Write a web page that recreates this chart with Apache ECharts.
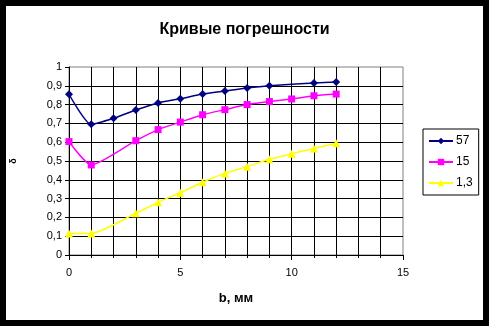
<!DOCTYPE html>
<html>
<head>
<meta charset="utf-8">
<script src="https://cdn.jsdelivr.net/npm/echarts@6/dist/echarts.min.js"></script>
<style>
  html, body { margin: 0; padding: 0; background: #000; }
  #chart { position: absolute; left: 6px; top: 6px; width: 477px; height: 314px; background: #fff; }
</style>
</head>
<body>
<div id="chart"></div>
<script>
// Error curves: b (mm) against relative value, one series per parameter
const seriesNames = ['57', '15', '1,3'];

const x57 = [0, 1, 2, 3, 4, 5, 6, 7, 8, 9, 11, 12];
const y57 = [0.855, 0.695, 0.727, 0.771, 0.809, 0.831, 0.856, 0.872, 0.888, 0.900, 0.915, 0.920];

const x15 = [0, 1, 3, 4, 5, 6, 7, 8, 9, 10, 11, 12];
const y15 = [0.603, 0.479, 0.608, 0.667, 0.707, 0.746, 0.773, 0.800, 0.816, 0.830, 0.847, 0.856];

const x13 = [0, 1, 3, 4, 5, 6, 7, 8, 9, 10, 11, 12];
const y13 = [0.115, 0.115, 0.222, 0.280, 0.331, 0.387, 0.434, 0.470, 0.509, 0.539, 0.567, 0.594];

const xTicks = [0, 5, 10, 15];
const yTicks = [0, 0.1, 0.2, 0.3, 0.4, 0.5, 0.6, 0.7, 0.8, 0.9, 1];

const pairs = (xs, ys) => xs.map((x, i) => [x, ys[i]]);
const comma = v => String(Math.round(v * 10) / 10).replace('.', ',');

const font = '"Liberation Sans", Arial, sans-serif';
const colors = ['#000080', '#FF00FF', '#FFFF00'];
const symbols = ['diamond', 'rect', 'triangle'];
const symbolSizes = [8, 7, 8];
const data = [pairs(x57, y57), pairs(x15, y15), pairs(x13, y13)];

const chart = echarts.init(document.getElementById('chart'), null, { renderer: 'canvas' });

chart.setOption({
  animation: false,
  backgroundColor: '#fff',
  title: {
    text: 'Кривые погрешности',
    left: 'center',
    top: 11,
    textStyle: { fontFamily: font, fontSize: 16, fontWeight: 'bold', color: '#000' }
  },
  legend: {
    orient: 'vertical',
    left: 417,
    top: 123,
    width: 55,
    itemWidth: 24,
    itemHeight: 8,
    itemGap: 9,
    padding: [6, 6, 6, 5],
    borderColor: '#000',
    borderWidth: 1,
    borderRadius: 0,
    textStyle: { fontFamily: font, fontSize: 12, color: '#000', padding: [0, 0, 0, -2] },
    data: seriesNames
  },
  grid: {
    left: 63,
    top: 61,
    width: 334,
    height: 188,
    outerBoundsMode: 'none',
    containLabel: false,
    show: true,
    borderColor: '#808080',
    borderWidth: 1
  },
  xAxis: {
    type: 'value',
    min: xTicks[0],
    max: xTicks[xTicks.length - 1],
    interval: 5,
    name: 'b, мм',
    nameLocation: 'middle',
    nameGap: 37,
    nameTextStyle: { fontFamily: font, fontSize: 13, fontWeight: 'bold', color: '#000' },
    axisLine: { lineStyle: { color: '#000', width: 1 } },
    axisTick: { show: true, length: 5, lineStyle: { color: '#000' } },
    minorTick: { show: true, splitNumber: 5, length: 3, lineStyle: { color: '#000' } },
    axisLabel: { fontFamily: font, fontSize: 11, color: '#000', margin: 12,
      formatter: v => xTicks.includes(v) ? String(v) : '' },
    splitLine: { show: true, showMinLine: false, showMaxLine: false, lineStyle: { color: '#000', width: 1 } },
    minorSplitLine: { show: true, lineStyle: { color: '#000', width: 1 } }
  },
  yAxis: {
    type: 'value',
    min: yTicks[0],
    max: yTicks[yTicks.length - 1],
    interval: 0.1,
    name: 'δ',
    nameLocation: 'middle',
    nameRotate: 90,
    nameGap: 51,
    nameTextStyle: { fontFamily: font, fontSize: 9, fontWeight: 'bold', color: '#000' },
    axisLine: { show: true, lineStyle: { color: '#000', width: 1 } },
    axisTick: { show: true, length: 4, lineStyle: { color: '#000' } },
    axisLabel: { fontFamily: font, fontSize: 11, color: '#000', margin: 7, formatter: comma },
    splitLine: { show: true, showMinLine: false, showMaxLine: false, lineStyle: { color: '#000', width: 1 } }
  },
  series: seriesNames.map((name, i) => ({
    name,
    type: 'line',
    data: data[i],
    smooth: 0.2,
    symbol: symbols[i],
    symbolSize: symbolSizes[i],
    color: colors[i],
    lineStyle: { color: colors[i], width: 1.5 },
    itemStyle: { color: colors[i] },
    z: 3 - i + 2
  }))
});
</script>
</body>
</html>
